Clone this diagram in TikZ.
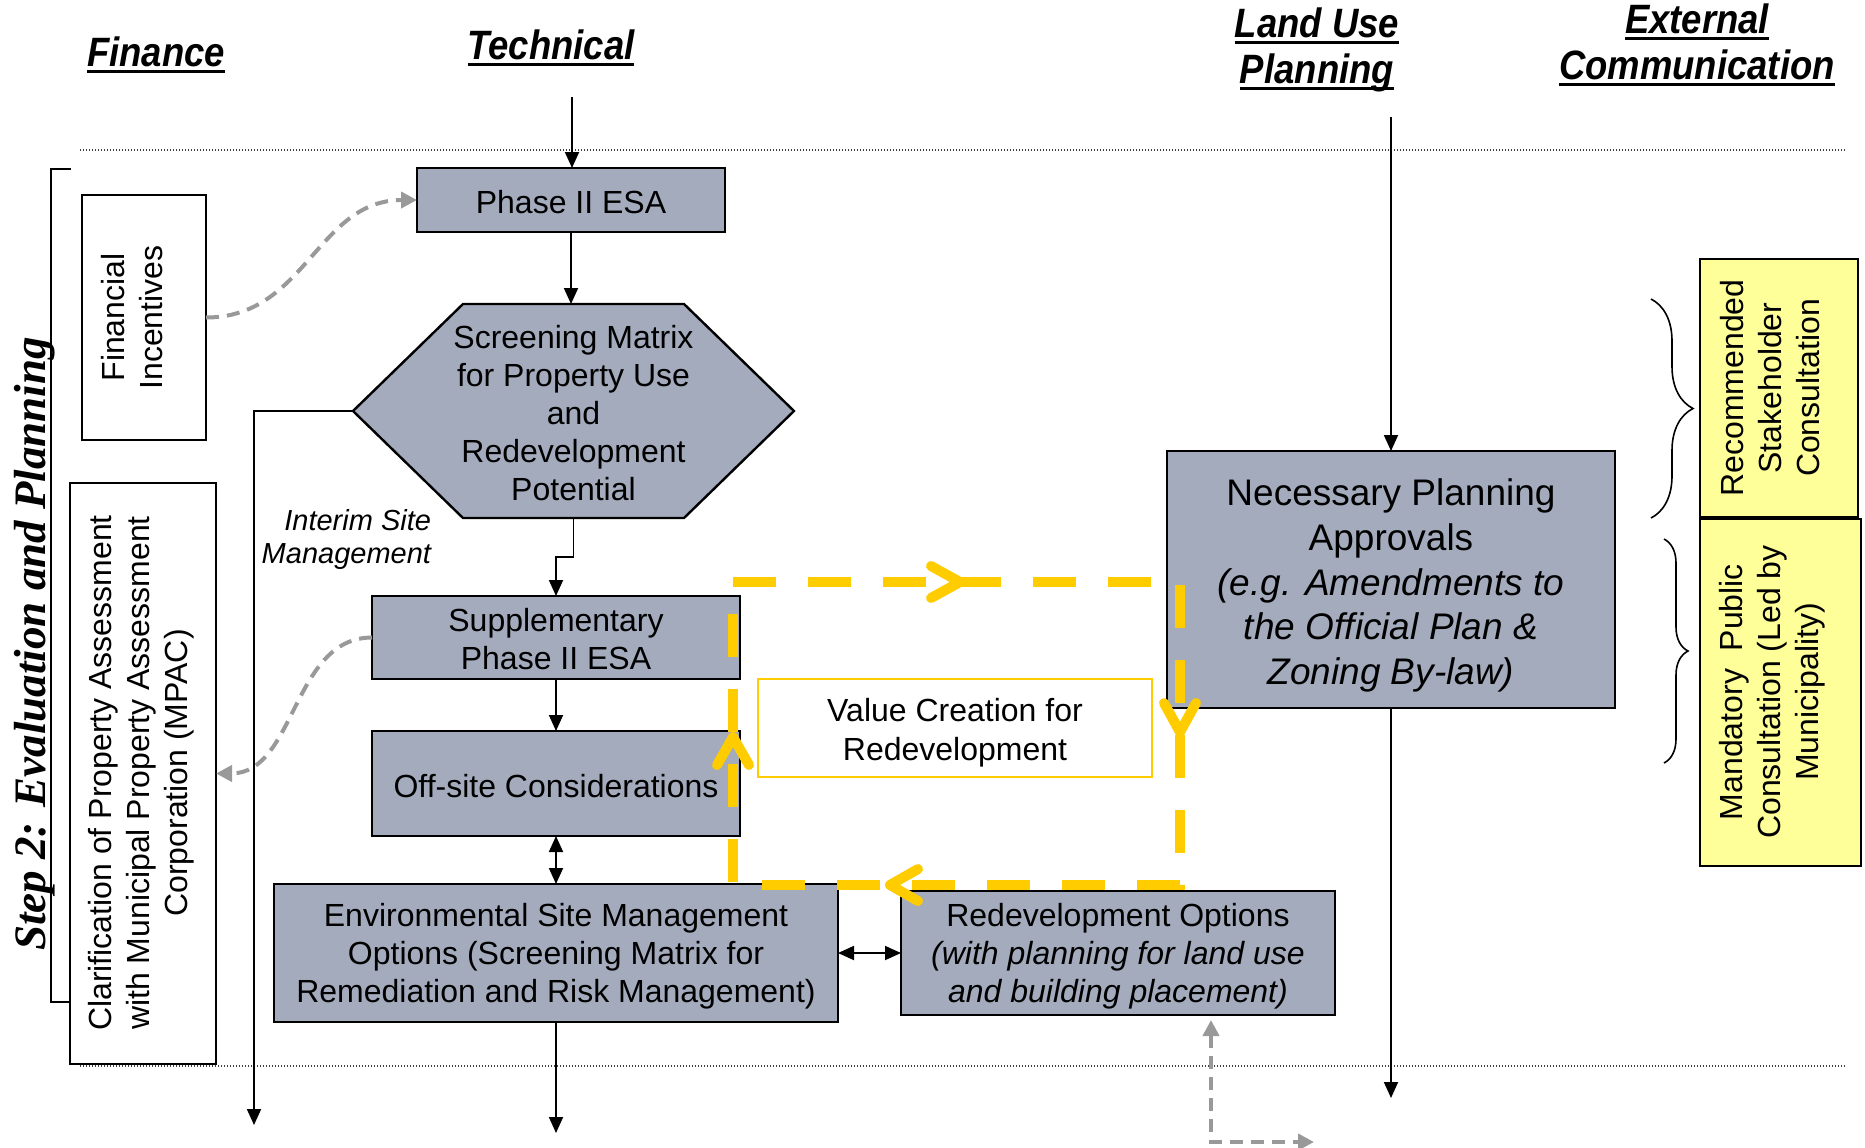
\documentclass[tikz,border=0pt]{standalone}
\usepackage{fontspec}
\setmainfont{Liberation Sans}
\newfontfamily\hdfont[FakeStretch=0.89]{Liberation Sans}
\newfontfamily\stepfont{Liberation Serif}
\usetikzlibrary{arrows.meta,calc,decorations.pathreplacing}

\definecolor{boxgray}{RGB}{163,171,189}
\definecolor{loopyellow}{RGB}{255,204,0}
\definecolor{notefill}{RGB}{255,255,153}
\definecolor{hintgray}{RGB}{153,153,153}

% heading text with a heavy underline
\newcommand\hdline[1]{\setbox0=\hbox{#1}\rlap{\rule[-3.6pt]{\wd0}{1.5pt}}\box0}

\begin{document}
\begin{tikzpicture}[x=0.5pt, y=-0.5pt,
  every node/.style={inner sep=0pt, outer sep=0pt},
  txt/.style={font=\fontsize{16}{19}\selectfont, align=center},
  gbox/.style={draw=black, line width=1.2pt, fill=boxgray},
  wbox/.style={draw=black, line width=1.2pt, fill=white},
  ybox/.style={draw=black, line width=1.2pt, fill=notefill},
  hdr/.style={font=\hdfont\bfseries\itshape\fontsize{20.5}{22}\selectfont},
  flow/.style={draw=black, line width=0.9pt, -{Triangle[length=8pt,width=7pt]}},
  both/.style={draw=black, line width=0.9pt, {Triangle[length=8pt,width=7pt]}-{Triangle[length=8pt,width=7pt]}},
  hint/.style={draw=hintgray, line width=2pt, dash pattern=on 6.5pt off 4pt, -{Triangle[length=8pt,width=8pt]}},
  loopline/.style={draw=loopyellow, line width=5pt, dash pattern=on 21.5pt off 16pt},
  chevron/.style={draw=loopyellow, line width=5pt, line cap=round, line join=round},
  dotrule/.style={draw=black!75, line width=0.6pt, dash pattern=on 0.6pt off 0.9pt},
  curly/.style={draw=black, line width=0.8pt, decorate},
]
\fill[white] (0,0) rectangle (1865,1147);
\useasboundingbox (0,0) rectangle (1865,1147);

% column headings
\node[hdr, anchor=base] (hFin)  at (156,66)  {\hdline{Finance}};
\node[hdr, anchor=base] (hTech) at (551,59)  {\hdline{Technical}};
\node[hdr, anchor=base] (hLU1)  at (1317,37) {\hdline{Land Use}};
\node[hdr, anchor=base] (hLU2)  at (1317,83) {\hdline{Planning}};
\node[hdr, anchor=base] (hEC1)  at (1697,33) {\hdline{External}};
\node[hdr, anchor=base] (hEC2)  at (1697,79) {\hdline{Communication}};

% step band
\draw[dotrule] (80,150) -- (1846,150);
\draw[dotrule] (80,1066) -- (1846,1066);
\draw[line width=0.9pt] (71,169) -- (51,169) -- (51,1002) -- (71,1002);
\node[font=\stepfont\bfseries\itshape\fontsize{22.5}{24}\selectfont, rotate=90, anchor=base]
  (step) at (46,644) {Step 2: Evaluation and Planning};

% finance column
\node[wbox, minimum width=62pt, minimum height=122.5pt] (fin) at (144,317.5) {};
\node[txt, rotate=90] (finT) at (132,317.5) {Financial\\Incentives};
\node[wbox, minimum width=73pt, minimum height=290.5pt] (clar) at (143,773.5) {};
\node[txt, rotate=90] (clarT) at (141,773) {Clarification of Property Assessment\\with Municipal Property Assessment\\Corporation (MPAC)};

% technical column
\node[gbox, minimum width=154pt, minimum height=32pt] (phase) at (571,200) {};
\node[txt] (phaseT) at (571,202.5) {Phase II ESA};
\coordinate (hL)  at (353,411);
\coordinate (hTL) at (463,304);
\coordinate (hTR) at (684,304);
\coordinate (hR)  at (794,411);
\coordinate (hBR) at (684,518);
\coordinate (hBL) at (463,518);
\filldraw[fill=boxgray, draw=black, line width=1.2pt] (hL) -- (hTL) -- (hTR) -- (hR) -- (hBR) -- (hBL) -- cycle;
\node[txt] (scr) at (573.5,413) {Screening Matrix\\for Property Use\\and\\Redevelopment\\Potential};
\node[gbox, minimum width=184pt, minimum height=41.5pt] (supp) at (556,637.5) {};
\node[txt] (suppT) at (556,639.5) {Supplementary\\Phase II ESA};
\node[gbox, minimum width=184pt, minimum height=52.5pt] (off) at (556,783.5) {};
\node[txt] (offT) at (556,786) {Off-site Considerations};
\node[gbox, minimum width=282pt, minimum height=69pt] (env) at (556,953) {};
\node[txt] (envT) at (556,956) {Environmental Site Management\\Options (Screening Matrix for\\Remediation and Risk Management)};
\node[font=\itshape\fontsize{14.5}{16.5}\selectfont, align=right, anchor=east] (interim) at (431,539) {Interim Site\\Management};

% land use planning column
\node[gbox, minimum width=217pt, minimum height=62pt] (redev) at (1118,953) {};
\node[txt] (redevT) at (1118,956.5) {Redevelopment Options\\\textit{(with planning for land use}\\\textit{and building placement)}};
\node[gbox, minimum width=224pt, minimum height=128.5pt] (nec) at (1391,579.5) {};
\node[txt, font=\fontsize{18.5}{22.4}\selectfont] (necT) at (1391,585.5)
  {Necessary Planning\\Approvals\\\textit{(e.g. Amendments to}\\\textit{the Official Plan \&}\\\textit{Zoning By-law)}};
\node[draw=loopyellow, line width=1pt, fill=white, minimum width=197pt, minimum height=49pt] (value) at (955,728) {};
\node[txt, font=\fontsize{16}{19.5}\selectfont] (valueT) at (955,733) {Value Creation for\\Redevelopment};

% external communication column
\node[ybox, minimum width=79pt, minimum height=129pt] (rec) at (1779,388) {};
\node[txt, rotate=90] (recT) at (1770,388) {Recommended\\Stakeholder\\Consultation};
\node[ybox, minimum width=80.5pt, minimum height=173.5pt] (mand) at (1780.5,692.5) {};
\node[txt, rotate=90] (mandT) at (1772,692) {Mandatory~~Public\\Consultation (Led by\\Municipality)};
\draw[curly, decoration={brace, amplitude=21pt}] (1651,299) -- (1651,518);
\draw[curly, decoration={brace, amplitude=12pt}] (1664,539) -- (1664,763);

% main flow
\coordinate (techtop) at (572,97);
\draw[flow] (techtop) -- (techtop |- phase.north);
\draw[flow] (phase.south) -- (phase.south |- hTL);
\coordinate (jog) at (573.5,557);
\draw[flow] (scr |- hBL) -- (jog) -| (supp.north);
\draw[flow] (supp.south) -- (off.north);
\draw[both] (off.south) -- (env.north);
\draw[both] (env.east) -- (redev.west);
\coordinate (envout) at (556,1133);
\draw[flow] (env.south) -- (envout);
\coordinate (leftout) at (254,1125);
\draw[flow] (hL) -- (hL -| leftout) -- (leftout);
\coordinate (lutop) at (1391,117);
\draw[flow] (lutop) -- (nec.north);
\coordinate (nout) at (1391,1098);
\draw[flow] (nec.south) -- (nout);

% supporting links
\draw[hint] (fin.east) .. controls +(100,0) and +(-100,0) .. (phase.west);
\draw[hint] (supp.west) .. controls +(-80,0) and +(80,0) .. (clar.east);
\coordinate (gcorner) at (1211,1142);
\coordinate (gend) at (1314,1142);
\coordinate (gtop) at ($(gcorner |- redev.south)+(0,5)$);
\draw[hint, {Triangle[length=8pt,width=8pt]}-{Triangle[length=8pt,width=8pt]}] (gtop) -- (gcorner) -- (gend);

% value creation loop
\coordinate (ya) at (733,582);
\coordinate (yb) at (1180,582);
\coordinate (yc) at (1180,885);
\coordinate (yd) at (733,885);
\draw[loopline] (ya) -- (yb) -- (yc) -- (yd) -- cycle;
\draw[chevron] (931,566) -- (960,582) -- (931,598);
\draw[chevron] (1164,703) -- (1180,732) -- (1196,703);
\draw[chevron] (918,869) -- (890,885) -- (918,901);
\draw[chevron] (717,765) -- (733,737) -- (749,765);
\end{tikzpicture}
\end{document}
